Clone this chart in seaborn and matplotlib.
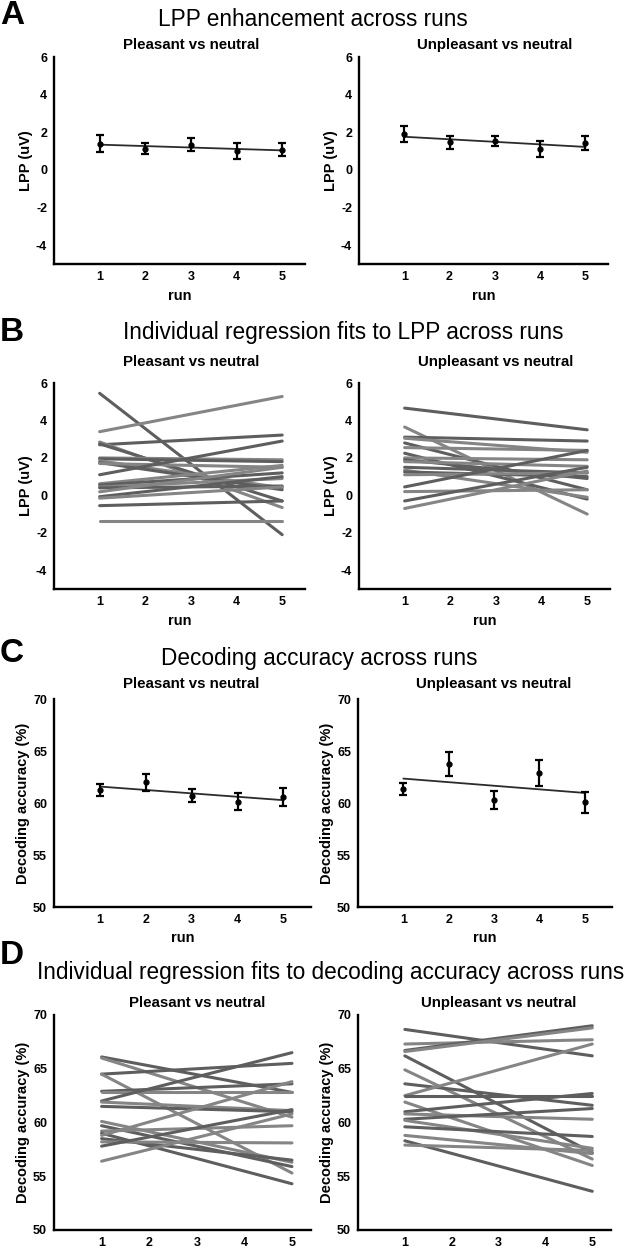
import matplotlib
matplotlib.use('Agg')
import matplotlib.pyplot as plt
from matplotlib import font_manager
import numpy as np
import pandas as pd
import seaborn as sns

# ---- data ----
runs = [1, 2, 3, 4, 5]

# A: LPP enhancement (mean +/- sem) per run
lpp_pleasant_mean = [1.40, 1.12, 1.35, 1.00, 1.08]
lpp_pleasant_sem = [0.44, 0.30, 0.35, 0.42, 0.35]
lpp_unpleasant_mean = [1.92, 1.47, 1.53, 1.12, 1.42]
lpp_unpleasant_sem = [0.42, 0.34, 0.27, 0.42, 0.38]

# B: individual LPP regression fits (value at run 1 and at run 5)
lpp_fit_pleasant_run1 = [5.45, 3.40, 2.70, 2.85, 2.75, 2.00, 1.95, 1.85, 1.75, 1.70,
                         1.10, 0.62, 0.55, 0.45, 0.40, 0.19, -0.07, -0.15, -0.55, -1.37]
lpp_fit_pleasant_run5 = [-2.10, 5.28, 3.22, -0.65, -0.30, 1.90, 1.80, 0.40, 0.30, 1.50,
                         2.90, 1.60, 1.20, 0.90, 0.50, 1.50, 1.00, 0.45, -0.30, -1.37]
lpp_fit_unpleasant_run1 = [4.66, 3.65, 3.11, 3.05, 2.80, 2.55, 2.25, 2.00, 1.90, 1.80,
                           1.50, 1.35, 1.25, 1.10, 0.45, 0.20, -0.30, -0.70]
lpp_fit_unpleasant_run5 = [3.50, -1.00, 2.90, 2.30, 0.30, 2.40, -0.20, 1.90, 0.90, 1.55,
                           1.20, -0.10, 1.00, 1.20, 2.40, 0.30, 1.50, 1.30]

# C: decoding accuracy (mean +/- sem) per run
dec_pleasant_mean = [61.25, 62.00, 60.70, 60.13, 60.55]
dec_pleasant_sem = [0.55, 0.82, 0.62, 0.83, 0.87]
dec_unpleasant_mean = [61.35, 63.73, 60.29, 62.86, 60.06]
dec_unpleasant_sem = [0.62, 1.17, 0.87, 1.25, 1.00]

# D: individual decoding regression fits (value at run 1 and at run 5)
dec_fit_pleasant_run1 = [66.1, 66.0, 64.5, 64.5, 62.9, 62.8, 62.0, 61.9, 61.5, 60.1,
                         59.7, 59.2, 59.0, 58.8, 58.5, 58.2, 57.8, 56.4]
dec_fit_pleasant_run5 = [62.8, 60.5, 65.5, 55.3, 63.6, 62.8, 66.5, 61.1, 61.0, 56.3,
                         55.9, 59.7, 54.3, 63.8, 56.5, 58.1, 61.2, 60.8]
dec_fit_unpleasant_run1 = [68.66, 67.3, 66.7, 66.6, 66.2, 64.9, 63.6, 62.5, 62.5, 61.9,
                           61.0, 60.8, 60.3, 60.2, 59.6, 58.8, 58.3, 57.9]
dec_fit_unpleasant_run5 = [66.2, 67.7, 69.0, 68.8, 57.2, 56.6, 61.6, 67.3, 62.5, 56.0,
                           62.7, 60.3, 61.3, 57.6, 58.7, 57.1, 53.6, 57.4]

lpp_ticks = [-4, -2, 0, 2, 4, 6]
dec_ticks = [50, 55, 60, 65, 70]

# ---- fonts / style ----
sns.set_style('white')
plt.rcParams['font.family'] = ['Liberation Sans', 'DejaVu Sans']
plt.rcParams['font.weight'] = 'bold'
plt.rcParams['axes.labelweight'] = 'bold'
plt.rcParams['axes.unicode_minus'] = False
for k in ['text.color', 'axes.labelcolor', 'xtick.color', 'ytick.color']:
    plt.rcParams[k] = 'black'

fig = plt.figure(figsize=(6.31, 12.5), dpi=100)
W, H = 631.0, 1250.0


def make_axes(x0, x1, top, bottom):
    return fig.add_axes([x0 / W, 1 - bottom / H, (x1 - x0) / W, (bottom - top) / H])


def style(ax, ylim, yticks, xlim, ylabel, xlabel, title, title_pad):
    ax.set_xlim(*xlim)
    ax.set_ylim(*ylim)
    ax.set_xticks(runs)
    ax.set_yticks(yticks)
    for s in ['top', 'right']:
        ax.spines[s].set_visible(False)
    for s in ['left', 'bottom']:
        ax.spines[s].set_linewidth(1.7)
        ax.spines[s].set_color('black')
    ax.tick_params(direction='in', length=4, width=1.5, labelsize=9, pad=5)
    ax.set_ylabel(ylabel, fontsize=10.5, labelpad=2)
    ax.set_xlabel(xlabel, fontsize=10.5, labelpad=4)
    ax.text(3, 1 + title_pad, title, transform=ax.get_xaxis_transform(),
            ha='center', va='center', fontsize=10.8, fontweight='bold')


def mean_panel(ax, mean, sem):
    sns.regplot(x=runs, y=mean, ci=None, scatter=False, truncate=True,
                line_kws=dict(color='#2b2b2b', lw=1.3), ax=ax)
    ax.errorbar(runs, mean, yerr=sem, fmt='o', color='black', ms=3.5,
                capsize=3, elinewidth=1.6, capthick=1.6, zorder=3)


def fit_panel(ax, run1, run5):
    n = len(run1)
    df = pd.concat([
        pd.DataFrame({'subject': range(n), 'run': 1, 'value': run1}),
        pd.DataFrame({'subject': range(n), 'run': 5, 'value': run5}),
    ])
    grays = {i: ('#5e5e5e' if i % 2 == 0 else '#858585') for i in range(n)}
    sns.lineplot(data=df, x='run', y='value', hue='subject', units='subject',
                 estimator=None, palette=grays, legend=False, lw=2.2, ax=ax)


def panel_header(letter, y_letter, title, x_title, y_title):
    fig.text(0.0, 1 - y_letter / H, letter, fontsize=24, fontweight='bold', va='center', ha='left')
    fig.text(x_title / W, 1 - y_title / H, title, fontsize=16.3,
             fontweight='normal', ha='center', va='center')


# ---- panel A ----
panel_header('A', 15, 'LPP enhancement across runs', 313, 19)
ax = make_axes(54, 305, 57, 264)
mean_panel(ax, lpp_pleasant_mean, lpp_pleasant_sem)
style(ax, (-5, 6), lpp_ticks, (0, 5.5), 'LPP (uV)', 'run', 'Pleasant vs neutral', 0.06)
ax = make_axes(359, 608, 57, 264)
mean_panel(ax, lpp_unpleasant_mean, lpp_unpleasant_sem)
style(ax, (-5, 6), lpp_ticks, (0, 5.5), 'LPP (uV)', 'run', 'Unpleasant vs neutral', 0.06)

# ---- panel B ----
panel_header('B', 332, 'Individual regression fits to LPP across runs', 343, 333)
ax = make_axes(54, 305, 383, 589)
fit_panel(ax, lpp_fit_pleasant_run1, lpp_fit_pleasant_run5)
style(ax, (-5, 6), lpp_ticks, (0, 5.5), 'LPP (uV)', 'run', 'Pleasant vs neutral', 0.1)
ax = make_axes(359, 610, 383, 589)
fit_panel(ax, lpp_fit_unpleasant_run1, lpp_fit_unpleasant_run5)
style(ax, (-5, 6), lpp_ticks, (0, 5.5), 'LPP (uV)', 'run', 'Unpleasant vs neutral', 0.1)

# ---- panel C ----
panel_header('C', 653, 'Decoding accuracy across runs', 319, 659)
ax = make_axes(54, 311, 699, 907)
mean_panel(ax, dec_pleasant_mean, dec_pleasant_sem)
style(ax, (50, 70), dec_ticks, (0, 5.6), 'Decoding accuracy (%)', 'run', 'Pleasant vs neutral', 0.07)
ax = make_axes(358, 612, 699, 907)
mean_panel(ax, dec_unpleasant_mean, dec_unpleasant_sem)
style(ax, (50, 70), dec_ticks, (0, 5.6), 'Decoding accuracy (%)', 'run', 'Unpleasant vs neutral', 0.07)

# ---- panel D ----
panel_header('D', 955, 'Individual regression fits to decoding accuracy across runs', 331, 972)
ax = make_axes(54, 311, 1015, 1230)
fit_panel(ax, dec_fit_pleasant_run1, dec_fit_pleasant_run5)
style(ax, (50, 70), dec_ticks, (0, 5.4), 'Decoding accuracy (%)', '', 'Pleasant vs neutral', 0.055)
ax = make_axes(358, 611, 1015, 1230)
fit_panel(ax, dec_fit_unpleasant_run1, dec_fit_unpleasant_run5)
style(ax, (50, 70), dec_ticks, (0, 5.4), 'Decoding accuracy (%)', '', 'Unpleasant vs neutral', 0.055)

fig.savefig('out.png', dpi=100, facecolor='white')
